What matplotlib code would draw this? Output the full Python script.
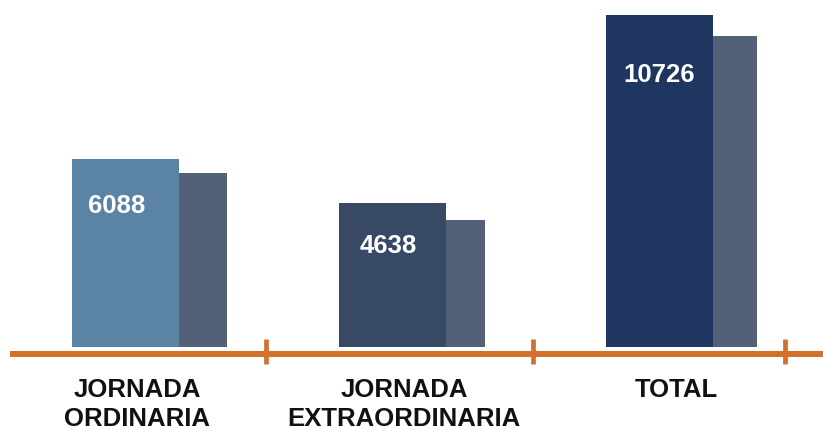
import matplotlib
matplotlib.use("Agg")
import matplotlib.pyplot as plt

# ---- data ----
categories = ["JORNADA\nORDINARIA", "JORNADA\nEXTRAORDINARIA", "TOTAL"]
main_values = [6088, 4638, 10726]
secondary_values = [5620, 4100, 10045]

# ---- style ----
main_colors = ["#5B83A3", "#384966", "#1E3660"]
secondary_color = "#526078"
orange = "#D2702C"
plt.rcParams['font.family'] = ['Liberation Sans', 'DejaVu Sans']

# pixel-based layout helpers
PX_PER_UNIT_X = 267.0
X0_PX = 125.5
VAL_PER_PX = 32.3
BASE_PX = 347.0
W, H = 823, 430

def xd(px):
    return (px - X0_PX) / PX_PER_UNIT_X

def yd(px):
    return (BASE_PX - px) * VAL_PER_PX

fig = plt.figure(figsize=(W / 100, H / 100), dpi=100)
ax = fig.add_axes([0, 0, 1, 1])
ax.set_xlim(xd(0), xd(W))
ax.set_ylim(yd(H), yd(0))
ax.axis("off")

main_w = 107 / PX_PER_UNIT_X
sec_widths = [48 / PX_PER_UNIT_X, 39 / PX_PER_UNIT_X, 44 / PX_PER_UNIT_X]
pos = list(range(len(categories)))

ax.bar(pos, main_values, width=main_w, color=main_colors, zorder=3)
ax.bar([p + main_w / 2 for p in pos], secondary_values, width=sec_widths,
       align="edge", color=secondary_color, zorder=2)

# orange axis line and separators
ax.plot([xd(10), xd(W)], [yd(354), yd(354)], color=orange, lw=4.3,
        solid_capstyle="butt", zorder=4)
for tx in [266, 533, 785]:
    ax.plot([xd(tx), xd(tx)], [yd(339), yd(364)], color=orange, lw=3.4,
            solid_capstyle="butt", zorder=4)

# value labels
val_offsets = [(-9, -54), (-4, -50), (0, -67)]
for p, v, (ox, oy) in zip(pos, main_values, val_offsets):
    ax.annotate(str(v), xy=(p, v), xytext=(ox, oy), textcoords="offset pixels",
                ha="center", va="baseline", color="white", fontsize=18.5,
                fontweight="bold", zorder=5)

# category labels
label_dx = [0.043, 0.043, 0.062]
for p, lab, dx in zip(pos, categories, label_dx):
    for k, line in enumerate(lab.split("\n")):
        ax.text(p + dx, yd(397 + 29.5 * k), line, ha="center", va="baseline",
                fontsize=18.5, fontweight="bold", color="#111111")

fig.savefig("out.png", dpi=100)
